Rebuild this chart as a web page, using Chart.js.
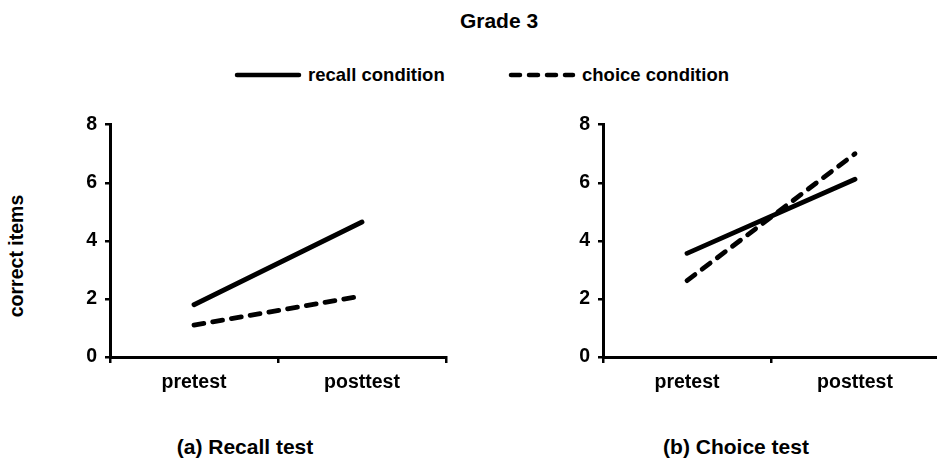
<!DOCTYPE html>
<html>
<head>
<meta charset="utf-8">
<script src="https://cdn.jsdelivr.net/npm/chart.js@4.4.0/dist/chart.umd.min.js"></script>
<style>
  html, body { margin: 0; padding: 0; background: #fff; overflow: hidden; }
  body { width: 937px; height: 461px; position: relative; font-family: "Liberation Sans", Arial, sans-serif; font-weight: bold; color: #000; }
  .abs { position: absolute; white-space: nowrap; }
  .title { left: 499px; top: 21px; transform: translate(-50%, -50%); font-size: 21px; }
  .ylabel { left: 16px; top: 256px; transform: translate(-50%, -50%) rotate(-90deg); font-size: 19.5px; }
  .sub { top: 447px; transform: translate(-50%, -50%); font-size: 21px; }
  .leg { top: 75px; transform: translateY(-50%); font-size: 18.5px; display: flex; align-items: center; }
  .leg svg { margin-right: 6px; }
  .panel { position: absolute; top: 105px; height: 300px; }
</style>
</head>
<body>
<div class="abs title">Grade 3</div>

<div class="abs leg" style="left:234px">
  <svg width="68" height="10"><line x1="3" y1="5" x2="65" y2="5" stroke="#000" stroke-width="4.5" stroke-linecap="round"/></svg>recall condition
</div>
<div class="abs leg" style="left:508px">
  <svg width="68" height="10"><line x1="3" y1="5" x2="65" y2="5" stroke="#000" stroke-width="4.5" stroke-linecap="round" stroke-dasharray="9 9"/></svg>choice condition
</div>

<div class="abs ylabel">correct items</div>

<div class="panel" style="left:40px;width:420px"><canvas id="recallChart"></canvas></div>
<div class="panel" style="left:533px;width:406px"><canvas id="choiceChart"></canvas></div>

<div class="abs sub" style="left:245px">(a) Recall test</div>
<div class="abs sub" style="left:736px">(b) Choice test</div>

<script>
const categories = ['pretest', 'posttest'];
const seriesNames = ['recall condition', 'choice condition'];
const yTicks = [0, 2, 4, 6, 8];

// (a) Recall test
const recallTestRecall = [1.8, 4.65];
const recallTestChoice = [1.1, 2.1];

// (b) Choice test
const choiceTestRecall = [3.57, 6.12];
const choiceTestChoice = [2.63, 7.0];

Chart.defaults.font.family = '"Liberation Sans", Arial, sans-serif';
Chart.defaults.font.weight = 'bold';
Chart.defaults.color = '#000';

function makePanel(id, recallVals, choiceVals, padRight) {
    const ctx = document.getElementById(id);
    return new Chart(ctx, {
        type: 'line',
        data: {
            labels: categories,
            datasets: [
                { label: seriesNames[0], data: recallVals, borderColor: '#000', borderWidth: 4.8, borderCapStyle: 'round', pointRadius: 0, tension: 0 },
                { label: seriesNames[1], data: choiceVals, borderColor: '#000', borderWidth: 4.8, borderCapStyle: 'round', borderDash: [10, 9], pointRadius: 0, tension: 0 }
            ]
        },
        options: {
            responsive: true, maintainAspectRatio: false,
            animation: false,
            layout: { padding: { top: 15, right: padRight, left: 0, bottom: 0 } },
            plugins: { legend: { display: false }, tooltip: { enabled: false } },
            scales: {
                x: {
                    offset: true,
                    grid: { offset: true, drawOnChartArea: false, drawTicks: true, tickLength: 6, color: '#000', lineWidth: 2.5 },
                    border: { color: '#000', width: 3 },
                    ticks: { font: { size: 19.5, weight: 'bold' }, color: '#000', padding: 8, maxRotation: 0 },
                    afterFit: s => { s.height = 48; }
                },
                y: {
                    min: 0, max: 8,
                    afterBuildTicks: s => { s.ticks = yTicks.map(v => ({ value: v })); },
                    grid: { drawOnChartArea: false, drawTicks: true, tickLength: 5, color: '#000', lineWidth: 2.5 },
                    border: { color: '#000', width: 3 },
                    ticks: { font: { size: 19.5, weight: 'bold' }, color: '#000', padding: 8 },
                    afterFit: s => { s.width = 70; }
                }
            }
        }
    });
}

makePanel('recallChart', recallTestRecall, recallTestChoice, 14);
makePanel('choiceChart', choiceTestRecall, choiceTestChoice, 0);
</script>
</body>
</html>
